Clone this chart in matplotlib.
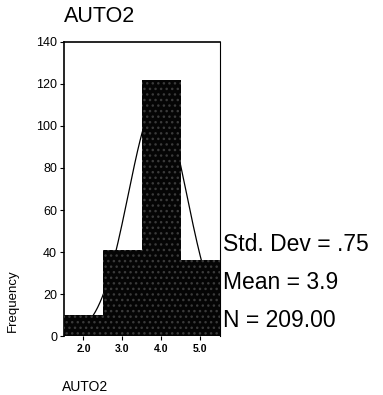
import matplotlib
matplotlib.use("Agg")
import matplotlib.pyplot as plt
import numpy as np

plt.rcParams["font.family"] = ["Liberation Sans", "DejaVu Sans"]

# histogram bins (AUTO2 values) and counts
bin_centers = [2.0, 3.0, 4.0, 5.0]
counts = [10, 41, 122, 36]
bin_width = 1.0
std_dev = 0.75
mean = 3.9
n_total = 209
y_ticks = [0, 20, 40, 60, 80, 100, 120, 140]

fig = plt.figure(figsize=(3.83, 3.95), dpi=100)
ax = fig.add_axes([0.167, 0.149, 0.407, 0.745])

ax.bar(bin_centers, counts, width=bin_width, color="#050505",
       edgecolor="#3a3a3a", hatch="...", linewidth=0, zorder=3)

# fitted normal curve (hidden behind the black bars, like the original)
xs = np.linspace(1.5, 5.5, 200)
ys = n_total * bin_width * np.exp(-0.5 * ((xs - mean) / std_dev) ** 2) / (std_dev * np.sqrt(2 * np.pi))
ax.plot(xs, ys, color="black", linewidth=0.9, zorder=2)

ax.set_xlim(1.5, 5.5)
ax.set_ylim(0, 140)
ax.set_xticks(bin_centers)
ax.set_xticklabels([f"{v:.1f}" for v in bin_centers], fontsize=7.5, fontweight="bold")
ax.set_yticks(y_ticks)
ax.set_yticklabels([str(v) for v in y_ticks], fontsize=9)
ax.tick_params(axis="both", length=3, width=0.8, direction="out", pad=2)
ax.tick_params(axis="x", pad=3)
for s in ["left", "top"]:
    ax.spines[s].set_linewidth(1.2)
ax.spines["right"].set_linewidth(0.8)
ax.spines["bottom"].set_visible(False)

fig.text(0.167, 0.958, "AUTO2", fontsize=15.5, ha="left", va="center")
fig.text(0.033, 0.24, "Frequency", fontsize=9.5, rotation=90, ha="center", va="center")
fig.text(0.163, 0.02, "AUTO2", fontsize=10, ha="left", va="center")

stats = [f"Std. Dev = {std_dev:.2f}".replace("0.", "."),
         f"Mean = {mean:.1f}",
         f"N = {n_total:.2f}"]
for i, s in enumerate(stats):
    fig.text(0.582, 0.38 - i * 0.096, s, fontsize=16.5, ha="left", va="center")

fig.savefig("out.png", dpi=100)
